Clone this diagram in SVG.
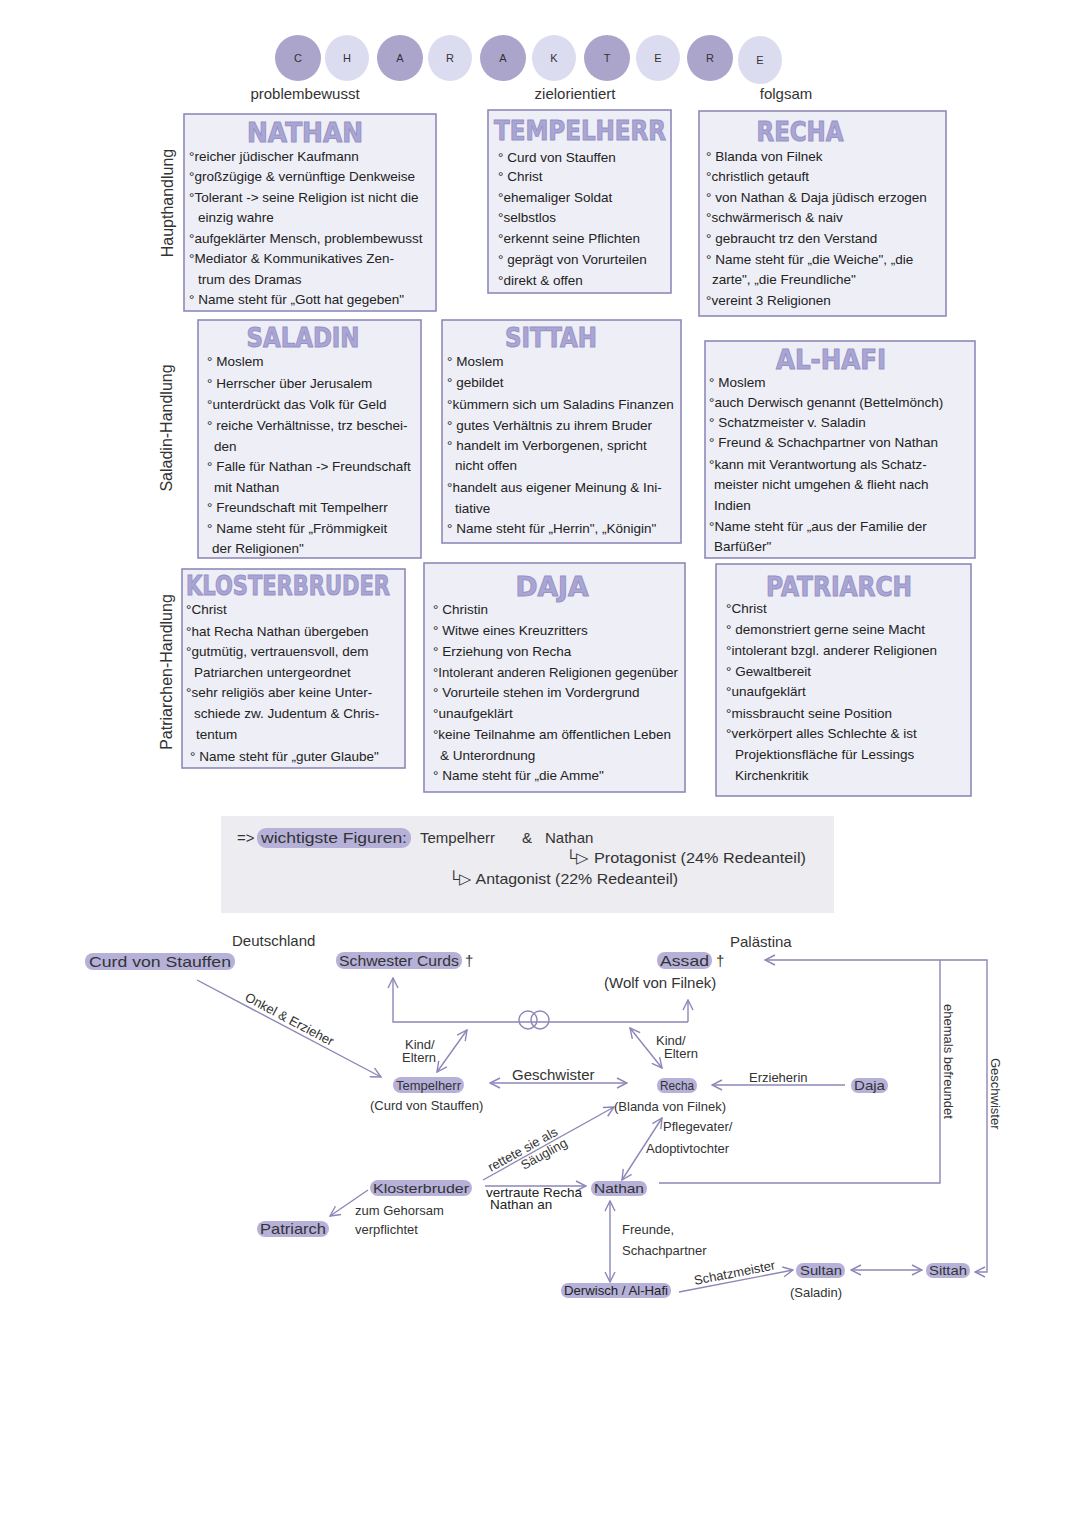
<svg xmlns="http://www.w3.org/2000/svg" width="1080" height="1528" viewBox="0 0 1080 1528">
<defs>
<marker id="ah" viewBox="0 0 12 12" refX="11" refY="6" markerWidth="12" markerHeight="12" markerUnits="userSpaceOnUse" orient="auto-start-reverse">
<path d="M1,1 L11,6 L1,11" fill="none" stroke="#8c87b6" stroke-width="1.4"/>
</marker>
<style>
.bg{fill:#ffffff}
.box{fill:#eeeef6;stroke:#8f89ba;stroke-width:1.6}
.t{font-family:"Liberation Sans","DejaVu Sans",sans-serif;font-size:13.5px;fill:#222}
.ttl{font-family:"DejaVu Sans",sans-serif;font-weight:bold;font-size:27px;fill:#aaa6d4;stroke:#9691c6;stroke-width:1;text-anchor:middle}
.side{font-family:"Liberation Sans",sans-serif;font-size:16px;fill:#333;text-anchor:middle}
.cd{fill:#aba5cc}
.cl{fill:#dcdcf1}
.cx{font-family:"Liberation Sans",sans-serif;font-size:11px;fill:#333;text-anchor:middle}
.hd{font-family:"Liberation Sans",sans-serif;font-size:15px;fill:#333;text-anchor:middle}
.pill{fill:#b6b1d9}
.g{font-family:"Liberation Sans",sans-serif;font-size:15px;fill:#333}
.gs{font-family:"Liberation Sans",sans-serif;font-size:13px;fill:#333}
.ln{stroke:#8c87b6;stroke-width:1.4;fill:none}
.sum{fill:#ececf1}
</style>
</defs>
<rect class="bg" x="0" y="0" width="1080" height="1528"/>

<g id="header">
<ellipse class="cd" cx="298" cy="58" rx="23" ry="23"/><text class="cx" x="298" y="62">C</text>
<ellipse class="cl" cx="347" cy="58" rx="22" ry="23"/><text class="cx" x="347" y="62">H</text>
<ellipse class="cd" cx="400" cy="58" rx="23" ry="23"/><text class="cx" x="400" y="62">A</text>
<ellipse class="cl" cx="450" cy="58" rx="22" ry="23"/><text class="cx" x="450" y="62">R</text>
<ellipse class="cd" cx="503" cy="58" rx="23" ry="23"/><text class="cx" x="503" y="62">A</text>
<ellipse class="cl" cx="554" cy="58" rx="22" ry="23"/><text class="cx" x="554" y="62">K</text>
<ellipse class="cd" cx="607" cy="58" rx="23" ry="23"/><text class="cx" x="607" y="62">T</text>
<ellipse class="cl" cx="658" cy="58" rx="22" ry="23"/><text class="cx" x="658" y="62">E</text>
<ellipse class="cd" cx="710" cy="58" rx="23" ry="23"/><text class="cx" x="710" y="62">R</text>
<ellipse class="cl" cx="760" cy="60" rx="22" ry="24"/><text class="cx" x="760" y="64">E</text>
<text class="hd" x="305" y="99">problembewusst</text>
<text class="hd" x="575" y="99">zielorientiert</text>
<text class="hd" x="786" y="99">folgsam</text>
</g>

<g id="side-labels">
<text class="side" transform="translate(173,203) rotate(-90)">Haupthandlung</text>
<text class="side" transform="translate(172,428) rotate(-90)">Saladin-Handlung</text>
<text class="side" transform="translate(172,672) rotate(-90)">Patriarchen-Handlung</text>
</g>

<g id="nathan">
<rect class="box" x="184" y="114" width="252" height="197"/>
<text class="ttl" x="305" y="142" textLength="116" lengthAdjust="spacingAndGlyphs">NATHAN</text>
<text class="t" x="189" y="161">°reicher jüdischer Kaufmann</text>
<text class="t" x="189" y="181">°großzügige &amp; vernünftige Denkweise</text>
<text class="t" x="189" y="202">°Tolerant -&gt; seine Religion ist nicht die</text>
<text class="t" x="198" y="222">einzig wahre</text>
<text class="t" x="189" y="243">°aufgeklärter Mensch, problembewusst</text>
<text class="t" x="189" y="263">°Mediator &amp; Kommunikatives Zen-</text>
<text class="t" x="198" y="284">trum des Dramas</text>
<text class="t" x="189" y="304">° Name steht für „Gott hat gegeben"</text>
</g>

<g id="tempelherr">
<rect class="box" x="488" y="110" width="183" height="183"/>
<text class="ttl" x="580" y="140" textLength="172" lengthAdjust="spacingAndGlyphs">TEMPELHERR</text>
<text class="t" x="498" y="162">°  Curd von Stauffen</text>
<text class="t" x="498" y="181">° Christ</text>
<text class="t" x="498" y="202">°ehemaliger Soldat</text>
<text class="t" x="498" y="222">°selbstlos</text>
<text class="t" x="498" y="243">°erkennt seine Pflichten</text>
<text class="t" x="498" y="264">° geprägt von Vorurteilen</text>
<text class="t" x="498" y="285">°direkt  &amp; offen</text>
</g>

<g id="recha">
<rect class="box" x="699" y="111" width="247" height="205"/>
<text class="ttl" x="800" y="141" textLength="87" lengthAdjust="spacingAndGlyphs">RECHA</text>
<text class="t" x="706" y="161">° Blanda von Filnek</text>
<text class="t" x="706" y="181">°christlich getauft</text>
<text class="t" x="706" y="202">° von Nathan &amp; Daja jüdisch erzogen</text>
<text class="t" x="706" y="222">°schwärmerisch &amp; naiv</text>
<text class="t" x="706" y="243">° gebraucht trz den Verstand</text>
<text class="t" x="706" y="264">° Name steht für „die Weiche", „die</text>
<text class="t" x="712" y="284">zarte", „die Freundliche"</text>
<text class="t" x="706" y="305">°vereint 3 Religionen</text>
</g>

<g id="saladin">
<rect class="box" x="198" y="320" width="223" height="238"/>
<text class="ttl" x="303" y="347" textLength="113" lengthAdjust="spacingAndGlyphs">SALADIN</text>
<text class="t" x="207" y="366">° Moslem</text>
<text class="t" x="207" y="388">° Herrscher über Jerusalem</text>
<text class="t" x="207" y="409">°unterdrückt das Volk für Geld</text>
<text class="t" x="207" y="430">° reiche Verhältnisse, trz beschei-</text>
<text class="t" x="214" y="451">den</text>
<text class="t" x="207" y="471">° Falle für Nathan -&gt; Freundschaft</text>
<text class="t" x="214" y="492">mit Nathan</text>
<text class="t" x="207" y="512">° Freundschaft mit Tempelherr</text>
<text class="t" x="207" y="533">° Name steht für „Frömmigkeit</text>
<text class="t" x="212" y="553">der Religionen"</text>
</g>

<g id="sittah">
<rect class="box" x="442" y="320" width="239" height="223"/>
<text class="ttl" x="551" y="347" textLength="92" lengthAdjust="spacingAndGlyphs">SITTAH</text>
<text class="t" x="447" y="366">° Moslem</text>
<text class="t" x="447" y="387">° gebildet</text>
<text class="t" x="447" y="409">°kümmern sich um Saladins Finanzen</text>
<text class="t" x="447" y="430">° gutes Verhältnis zu ihrem Bruder</text>
<text class="t" x="447" y="450">° handelt im Verborgenen, spricht</text>
<text class="t" x="455" y="470">nicht offen</text>
<text class="t" x="447" y="492">°handelt aus eigener Meinung &amp; Ini-</text>
<text class="t" x="455" y="513">tiative</text>
<text class="t" x="447" y="533">° Name steht für „Herrin", „Königin"</text>
</g>

<g id="alhafi">
<rect class="box" x="705" y="341" width="270" height="217"/>
<text class="ttl" x="831" y="369" textLength="110" lengthAdjust="spacingAndGlyphs">AL-HAFI</text>
<text class="t" x="709" y="387">° Moslem</text>
<text class="t" x="709" y="407">°auch Derwisch genannt (Bettelmönch)</text>
<text class="t" x="709" y="427">° Schatzmeister v. Saladin</text>
<text class="t" x="709" y="447">° Freund &amp; Schachpartner von Nathan</text>
<text class="t" x="709" y="469">°kann mit Verantwortung als Schatz-</text>
<text class="t" x="714" y="489">meister nicht umgehen &amp; flieht nach</text>
<text class="t" x="714" y="510">Indien</text>
<text class="t" x="709" y="531">°Name steht für „aus der Familie der</text>
<text class="t" x="714" y="551">Barfüßer"</text>
</g>

<g id="klosterbruder">
<rect class="box" x="182" y="569" width="223" height="199"/>
<text class="ttl" x="288" y="595" textLength="204" lengthAdjust="spacingAndGlyphs">KLOSTERBRUDER</text>
<text class="t" x="186" y="614">°Christ</text>
<text class="t" x="186" y="636">°hat  Recha Nathan übergeben</text>
<text class="t" x="186" y="656">°gutmütig, vertrauensvoll, dem</text>
<text class="t" x="194" y="677">Patriarchen  untergeordnet</text>
<text class="t" x="186" y="697">°sehr religiös aber keine Unter-</text>
<text class="t" x="194" y="718">schiede zw. Judentum &amp; Chris-</text>
<text class="t" x="196" y="739">tentum</text>
<text class="t" x="190" y="761">° Name steht für „guter Glaube"</text>
</g>

<g id="daja">
<rect class="box" x="424" y="563" width="261" height="229"/>
<text class="ttl" x="552" y="596" textLength="73" lengthAdjust="spacingAndGlyphs">DAJA</text>
<text class="t" x="433" y="614">° Christin</text>
<text class="t" x="433" y="635">° Witwe eines Kreuzritters</text>
<text class="t" x="433" y="656">° Erziehung von Recha</text>
<text class="t" x="433" y="677" textLength="245" lengthAdjust="spacingAndGlyphs">°Intolerant anderen Religionen gegenüber</text>
<text class="t" x="433" y="697">° Vorurteile stehen im Vordergrund</text>
<text class="t" x="433" y="718">°unaufgeklärt</text>
<text class="t" x="433" y="739" textLength="238" lengthAdjust="spacingAndGlyphs">°keine Teilnahme am öffentlichen Leben</text>
<text class="t" x="440" y="760">&amp; Unterordnung</text>
<text class="t" x="433" y="780">° Name steht für „die Amme"</text>
</g>

<g id="patriarch">
<rect class="box" x="716" y="564" width="255" height="232"/>
<text class="ttl" x="839" y="596" textLength="146" lengthAdjust="spacingAndGlyphs">PATRIARCH</text>
<text class="t" x="726" y="613">°Christ</text>
<text class="t" x="726" y="634">° demonstriert gerne seine Macht</text>
<text class="t" x="726" y="655">°intolerant bzgl. anderer Religionen</text>
<text class="t" x="726" y="676">° Gewaltbereit</text>
<text class="t" x="726" y="696">°unaufgeklärt</text>
<text class="t" x="726" y="718">°missbraucht seine Position</text>
<text class="t" x="726" y="738">°verkörpert alles Schlechte &amp; ist</text>
<text class="t" x="735" y="759">Projektionsfläche für Lessings</text>
<text class="t" x="735" y="780">Kirchenkritik</text>
</g>

<g id="summary">
<rect class="sum" x="221" y="816" width="613" height="97"/>
<rect class="pill" x="257" y="828" width="154" height="20" rx="9"/>
<text class="g" x="237" y="843">=&gt;</text>
<text class="g" x="261" y="843" textLength="146" lengthAdjust="spacingAndGlyphs">wichtigste Figuren:</text>
<text class="g" x="420" y="843">Tempelherr</text>
<text class="g" x="522" y="843">&amp;</text>
<text class="g" x="545" y="843">Nathan</text>
<text class="g" x="565" y="863" textLength="241" lengthAdjust="spacingAndGlyphs">└▷ Protagonist (24% Redeanteil)</text>
<text class="g" x="448" y="884" textLength="230" lengthAdjust="spacingAndGlyphs">└▷ Antagonist (22% Redeanteil)</text>
</g>

<g id="connectors">
<path class="ln" d="M197,980 L381,1077" marker-end="url(#ah)"/>
<path class="ln" d="M688,1022 H393 V978" marker-end="url(#ah)"/>
<path class="ln" d="M688,1022 V1000" marker-end="url(#ah)"/>
<path class="ln" d="M467,1030 L437,1072" marker-start="url(#ah)" marker-end="url(#ah)"/>
<path class="ln" d="M630,1028 L662,1068" marker-start="url(#ah)" marker-end="url(#ah)"/>
<path class="ln" d="M490,1083 H627" marker-start="url(#ah)" marker-end="url(#ah)"/>
<path class="ln" d="M845,1085 H712" marker-end="url(#ah)"/>
<path class="ln" d="M975,1272 H987 V960 H765" marker-start="url(#ah)" marker-end="url(#ah)"/>
<path class="ln" d="M659,1183 H940 V960"/>
<path class="ln" d="M368,1190 L330,1216" marker-end="url(#ah)"/>
<path class="ln" d="M483,1180 L614,1107" marker-end="url(#ah)"/>
<path class="ln" d="M485,1186 H586" marker-end="url(#ah)"/>
<path class="ln" d="M662,1118 L622,1180" marker-start="url(#ah)" marker-end="url(#ah)"/>
<path class="ln" d="M610,1201 V1282" marker-start="url(#ah)" marker-end="url(#ah)"/>
<path class="ln" d="M679,1292 L793,1270" marker-end="url(#ah)"/>
<path class="ln" d="M851,1270 H922" marker-start="url(#ah)" marker-end="url(#ah)"/>
<circle class="ln" cx="528" cy="1020" r="9"/>
<circle class="ln" cx="540" cy="1020" r="9"/>
<text class="gs" transform="translate(244,1000) rotate(28)">Onkel &amp; Erzieher</text>
<text class="gs" x="405" y="1049" font-size="12">Kind/</text>
<text class="gs" x="402" y="1062" font-size="12">Eltern</text>
<text class="gs" x="656" y="1045">Kind/</text>
<text class="gs" x="664" y="1058">Eltern</text>
<text class="g" x="512" y="1080">Geschwister</text>
<text class="gs" x="749" y="1082">Erzieherin</text>
<text class="gs" transform="translate(944,1004) rotate(90)">ehemals befreundet</text>
<text class="gs" transform="translate(991,1058) rotate(90)">Geschwister</text>
<text class="gs" x="355" y="1215">zum Gehorsam</text>
<text class="gs" x="355" y="1234">verpflichtet</text>
<text class="gs" font-size="12" transform="translate(491,1172) rotate(-29)">rettete sie als</text>
<text class="gs" font-size="12" transform="translate(524,1170) rotate(-29)">Säugling</text>
<text class="t" x="486" y="1197" font-size="11">vertraute Recha</text>
<text class="t" x="490" y="1209" font-size="11">Nathan an</text>
<text class="gs" x="663" y="1131">Pflegevater/</text>
<text class="gs" x="646" y="1153">Adoptivtochter</text>
<text class="gs" x="622" y="1234">Freunde,</text>
<text class="gs" x="622" y="1255">Schachpartner</text>
<text class="gs" transform="translate(695,1285) rotate(-11)">Schatzmeister</text>
</g>

<g id="n-deutschland"><text class="g" x="232" y="946">Deutschland</text></g>
<g id="n-palaestina"><text class="g" x="730" y="947">Palästina</text></g>
<g id="n-curd"><rect class="pill" x="85" y="953" width="150" height="17" rx="8"/><text class="g" x="89" y="967" textLength="142" lengthAdjust="spacingAndGlyphs">Curd von Stauffen</text></g>
<g id="n-schwester"><rect class="pill" x="336" y="952" width="126" height="17" rx="8"/><text class="g" x="339" y="966" textLength="120" lengthAdjust="spacingAndGlyphs">Schwester Curds</text><text class="g" x="465" y="966">†</text></g>
<g id="n-assad"><rect class="pill" x="657" y="952" width="55" height="17" rx="8"/><text class="g" x="660" y="966" textLength="49" lengthAdjust="spacingAndGlyphs">Assad</text><text class="g" x="716" y="966">†</text><text class="g" x="604" y="988">(Wolf von Filnek)</text></g>
<g id="n-tempelherr"><rect class="pill" x="393" y="1077" width="71" height="16" rx="8"/><text class="gs" x="396" y="1090" textLength="65" lengthAdjust="spacingAndGlyphs">Tempelherr</text><text class="gs" x="370" y="1110">(Curd von Stauffen)</text></g>
<g id="n-recha"><rect class="pill" x="657" y="1078" width="40" height="15" rx="7"/><text class="gs" x="660" y="1090" textLength="34" lengthAdjust="spacingAndGlyphs">Recha</text><text class="gs" x="614" y="1111">(Blanda von Filnek)</text></g>
<g id="n-daja"><rect class="pill" x="851" y="1078" width="37" height="15" rx="7"/><text class="gs" x="854" y="1090" textLength="31" lengthAdjust="spacingAndGlyphs">Daja</text></g>
<g id="n-nathan"><rect class="pill" x="591" y="1181" width="56" height="15" rx="7"/><text class="gs" x="594" y="1193" textLength="50" lengthAdjust="spacingAndGlyphs">Nathan</text></g>
<g id="n-klosterbruder"><rect class="pill" x="370" y="1180" width="102" height="16" rx="8"/><text class="gs" x="373" y="1193" textLength="96" lengthAdjust="spacingAndGlyphs">Klosterbruder</text></g>
<g id="n-patriarch"><rect class="pill" x="257" y="1221" width="72" height="16" rx="8"/><text class="g" x="260" y="1234" textLength="66" lengthAdjust="spacingAndGlyphs">Patriarch</text></g>
<g id="n-derwisch"><rect class="pill" x="561" y="1283" width="110" height="15" rx="7"/><text class="t" x="564" y="1295" font-size="12" textLength="104" lengthAdjust="spacingAndGlyphs">Derwisch / Al-Hafi</text></g>
<g id="n-sultan"><rect class="pill" x="796" y="1263" width="49" height="15" rx="7"/><text class="gs" x="800" y="1275" textLength="42" lengthAdjust="spacingAndGlyphs">Sultan</text><text class="gs" x="790" y="1297">(Saladin)</text></g>
<g id="n-sittah"><rect class="pill" x="926" y="1263" width="44" height="15" rx="7"/><text class="gs" x="929" y="1275" textLength="38" lengthAdjust="spacingAndGlyphs">Sittah</text></g>
</svg>
